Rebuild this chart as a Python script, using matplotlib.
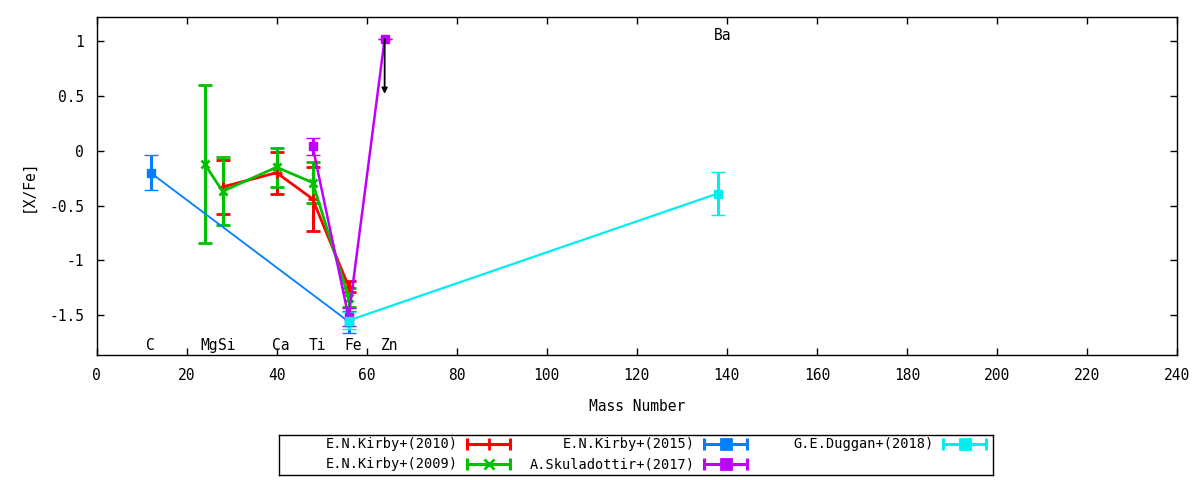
import numpy as np
import matplotlib
matplotlib.use("Agg")
import matplotlib.pyplot as plt

plt.rcParams['font.family'] = ['DejaVu Sans Mono']
plt.rcParams['font.size'] = 9.5

# --- dati ---
kirby10_x = [28, 40, 48, 56]
kirby10_y = [-0.33, -0.20, -0.44, -1.24]
kirby10_e = [0.25, 0.19, 0.29, 0.05]

kirby09_x = [24, 28, 40, 48, 56]
kirby09_y = [-0.12, -0.37, -0.15, -0.29, -1.34]
kirby09_e = [0.72, 0.31, 0.18, 0.19, 0.09]

kirby15_x = [12, 56]
kirby15_y = [-0.20, -1.56]
kirby15_e = [0.16, 0.10]

skula17_x = [48, 56, 64]
skula17_y = [0.04, -1.52, 1.02]
skula17_e = [0.08, 0.08, 0.0]

duggan18_x = [56, 138]
duggan18_y = [-1.55, -0.39]
duggan18_e = [0.08, 0.20]

elem_names = ['C', 'Mg', 'Si', 'Ca', 'Ti', 'Fe', 'Zn']
elem_mass = [12, 24, 28, 40, 48, 56, 64]

fig = plt.figure(figsize=(12, 4.8), dpi=100)
ax = fig.add_axes([96.5/1200, 1-355/480, (1177-96.5)/1200, (355-17)/480])

# (x, y, err, colore, marker, size, mew, spessore linea, etichetta)
series = [
    (kirby10_x, kirby10_y, kirby10_e, '#ff0000', '+', 7, 2.0, 2.0, 'E.N.Kirby+(2010)'),
    (kirby09_x, kirby09_y, kirby09_e, '#00c000', 'x', 6, 2.0, 2.0, 'E.N.Kirby+(2009)'),
    (kirby15_x, kirby15_y, kirby15_e, '#0080ff', 's', 6, 1.0, 1.3, 'E.N.Kirby+(2015)'),
    (skula17_x, skula17_y, skula17_e, '#c000ff', 's', 6, 1.0, 1.8, 'A.Skuladottir+(2017)'),
    (duggan18_x, duggan18_y, duggan18_e, '#00eeee', 's', 6, 1.0, 1.6, 'G.E.Duggan+(2018)'),
]

for x, y, e, col, mk, ms, mew, lw, lab in series:
    ax.errorbar(x, y, yerr=e, color=col, marker=mk, ms=ms, mew=mew, lw=lw,
                elinewidth=2.2, capsize=5, capthick=2.2)

# freccia (limite superiore Zn)
ax.annotate('', xy=(skula17_x[2], skula17_y[2] - 0.5), xytext=(skula17_x[2], skula17_y[2]),
            arrowprops=dict(arrowstyle='-|>', color='black', lw=1.3, mutation_scale=8,
                            shrinkA=0, shrinkB=0))

# etichette degli elementi
for nome, m in zip(elem_names, elem_mass):
    ax.annotate(nome, xy=(m, -1.78), xytext=(-3, 0), textcoords='offset points',
                ha='left', va='center', fontsize=10.5)
ax.annotate('Ba', xy=(duggan18_x[1], 1.05), xytext=(-3, 0), textcoords='offset points',
            ha='left', va='center', fontsize=10.5)

ax.set_xlim(0, 240)
ax.set_ylim(-1.865, 1.222)
ax.set_xticks(np.arange(0, 241, 20))
ax.set_yticks([-1.5, -1, -0.5, 0, 0.5, 1])
ax.set_yticklabels(['-1.5', '-1', '-0.5', '0', '0.5', '1'])
ax.tick_params(direction='in', top=True, right=True, length=5, width=1,
               labelsize=10.5, pad=9)
ax.set_xlabel('Mass Number', fontsize=10.5, labelpad=12)
ax.set_ylabel('[X/Fe]', fontsize=10.5, labelpad=10)
for s in ax.spines.values():
    s.set_linewidth(1)

# legenda disegnata a mano (stile gnuplot)
lx0, ly0, lw_, lh_ = 279, 435, 714, 40
lax = fig.add_axes([lx0/1200, 1-(ly0+lh_)/480, lw_/1200, lh_/480])
lax.set_xlim(0, lw_)
lax.set_ylim(lh_, 0)
lax.set_xticks([])
lax.set_yticks([])
for s in lax.spines.values():
    s.set_linewidth(1)

col_text = [458, 695, 934]
row_y = [444, 464]
slots = [(0, 0), (0, 1), (1, 0), (1, 1), (2, 0)]
for (x, y, e, col, mk, ms, mew, lw, lab), (c, r) in zip(series, slots):
    tx = col_text[c] - lx0
    ty = row_y[r] - ly0
    lax.text(tx, ty, lab, ha='right', va='center', fontsize=9.8)
    xa, xb = tx + 9, tx + 52
    lax.plot([xa, xb], [ty, ty], color=col, lw=2.2)
    lax.plot([xa, xb], [ty, ty], ls='none', marker='|', ms=8, mew=2.2, color=col)
    lax.plot([(xa + xb) / 2], [ty], marker=mk, ms=ms + 1, mew=max(mew, 2.0), color=col)

fig.savefig('out.png', dpi=100)
